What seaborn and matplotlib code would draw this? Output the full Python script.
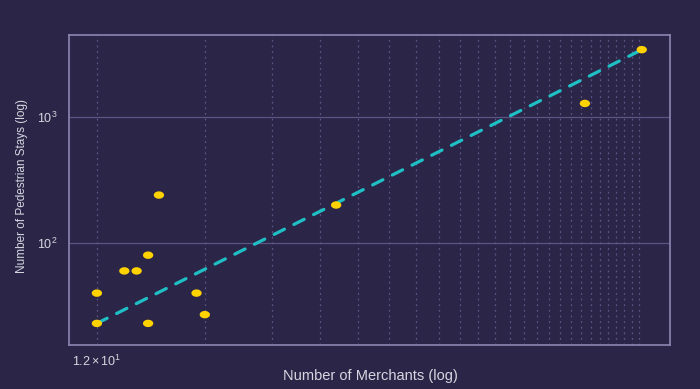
import numpy as np
import pandas as pd
import matplotlib
matplotlib.use("Agg")
import matplotlib.pyplot as plt
import seaborn as sns
from matplotlib.path import Path
from matplotlib.ticker import FixedLocator, FuncFormatter, LogLocator, NullLocator

# ---- data ----
merchants = [12, 12, 14, 15, 16, 16, 17, 21, 22, 46, 186, 256]
pedestrian_stays = [23, 40, 60, 60, 80, 23, 240, 40, 27, 200, 1280, 3420]

# power-law trend  y = coef * x ** exponent
trend_exponent = 1.634
trend_coef = 0.3966

x_grid_ticks = list(range(12, 253, 10))
x_first_label = r"$\mathdefault{1.2\times10^{1}}$"
x_label = "Number of Merchants (log)"
y_label = "Number of Pedestrian Stays (log)"

# ---- style ----
BG = "#2b2648"
SPINE = "#8c86b2"
GRID_H = "#5a5482"
GRID_V = "#5a5482"
TEXT = "#d6d6e0"
POINT = "#ffd200"
LINE = "#1fbfc6"

sns.set_theme(style="dark")
plt.rcParams["font.family"] = ["Liberation Sans", "DejaVu Sans"]
plt.rcParams["mathtext.fontset"] = "custom"
plt.rcParams["mathtext.rm"] = "Liberation Sans"
plt.rcParams["mathtext.it"] = "Liberation Sans:italic"

df = pd.DataFrame({"merchants": merchants, "stays": pedestrian_stays})
tx = np.geomspace(min(merchants), max(merchants), 60)
trend = pd.DataFrame({"merchants": tx, "stays": trend_coef * tx ** trend_exponent})

fig = plt.figure(figsize=(7.0, 3.89), dpi=100, facecolor=BG)
ax = fig.add_axes([69 / 700, 44 / 389, 601 / 700, 310 / 389])
ax.set_facecolor(BG)
ax.set_xscale("log")
ax.set_yscale("log")

sns.lineplot(data=trend, x="merchants", y="stays", ax=ax, color=LINE,
             linewidth=2.3, linestyle=(0, (3.6, 3.3)), dash_capstyle="round",
             zorder=3)

theta = np.linspace(0, 2 * np.pi, 40)
ell = Path(np.column_stack([np.cos(theta), 0.72 * np.sin(theta)]), closed=True)
sns.scatterplot(data=df, x="merchants", y="stays", ax=ax, color=POINT,
                marker=ell, s=55, edgecolor="none", linewidth=0, zorder=4)

ax.set_xlim(10.26, 300)
ax.set_ylim(15.5, 4470)

ax.xaxis.set_major_locator(FixedLocator(x_grid_ticks))
ax.xaxis.set_major_formatter(FuncFormatter(lambda v, p: x_first_label if abs(v - x_grid_ticks[0]) < 1e-6 else ""))
ax.xaxis.set_minor_locator(NullLocator())
ax.yaxis.set_major_locator(LogLocator(base=10))
ax.yaxis.set_minor_locator(NullLocator())

ax.grid(False)
ax.xaxis.grid(True, color=GRID_V, linestyle=(0, (1.5, 3)), linewidth=0.9)
ax.yaxis.grid(True, color=GRID_H, linestyle="-", linewidth=0.9)
ax.set_axisbelow(True)

for s in ax.spines.values():
    s.set_visible(True)
    s.set_color(SPINE)
    s.set_linewidth(1.2)

ax.tick_params(axis="both", length=0, colors=TEXT, labelsize=9)
ax.tick_params(axis="y", pad=8)
ax.tick_params(axis="x", pad=6)

ax.set_xlabel(x_label, color=TEXT, fontsize=10.5)
ax.set_ylabel(y_label, color=TEXT, fontsize=8.5)
ax.xaxis.set_label_coords(0.5008, -0.0774)
ax.xaxis.label.set_va("top")
ax.yaxis.set_label_coords(-0.068, 0.514)

fig.savefig("out.png", dpi=100, facecolor=BG)
